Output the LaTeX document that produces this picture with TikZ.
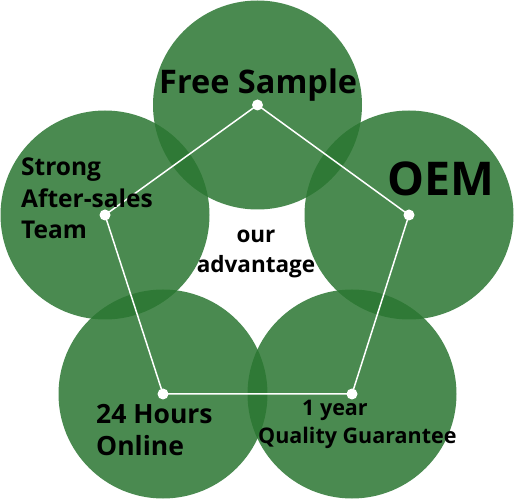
\documentclass[tikz,border=0pt]{standalone}
\usepackage{fontspec}
\setmainfont{Open Sans}
\definecolor{cgreen}{RGB}{42,118,49}
\begin{document}
\begin{tikzpicture}[x=1pt,y=-1pt,
  bub/.style={circle,fill=cgreen,fill opacity=0.85,minimum size=209pt,inner sep=0pt},
  dot/.style={circle,fill=white,minimum size=11pt,inner sep=0pt},
  lbl/.style={text=black,inner sep=0pt,align=left}]
\useasboundingbox (0,0) rectangle (515,500);
\node[bub] (c1) at (257.5,105) {};
\node[bub] (c2) at (409,215) {};
\node[bub] (c3) at (352,394) {};
\node[bub] (c4) at (163,394) {};
\node[bub] (c5) at (105,215) {};
\draw[white,line width=1.5pt] (c1.center) -- (c2.center) -- (c3.center) -- (c4.center) -- (c5.center) -- cycle;
\foreach \n in {c1,c2,c3,c4,c5} \node[dot] at (\n.center) {};
\node[lbl,anchor=base west,font={\bfseries\fontsize{32.5}{36}\selectfont}] (t1) at (159,94) {Free Sample};
\node[lbl,anchor=base west,font={\bfseries\fontsize{46.5}{50}\selectfont}] (t2) at (387,196) {OEM};
\node[lbl,anchor=base west,font={\bfseries\fontsize{24.5}{31.5}\selectfont}] (t5) at (21,239) {Strong\\After-sales\\Team};
\node[lbl,anchor=base,align=center,font={\bfseries\fontsize{22.5}{31}\selectfont}] (t0) at (256,273) {our\\advantage};
\node[lbl,anchor=base west,font={\bfseries\fontsize{26.5}{32}\selectfont}] (t4) at (96,455) {24 Hours\\Online};
\node[lbl,anchor=base west,font={\bfseries\fontsize{21.5}{27}\selectfont}] (t3a) at (302,416) {1 year};
\node[lbl,anchor=base west,font={\bfseries\fontsize{21.5}{27}\selectfont}] (t3b) at (258,443) {Quality Guarantee};
\end{tikzpicture}
\end{document}
